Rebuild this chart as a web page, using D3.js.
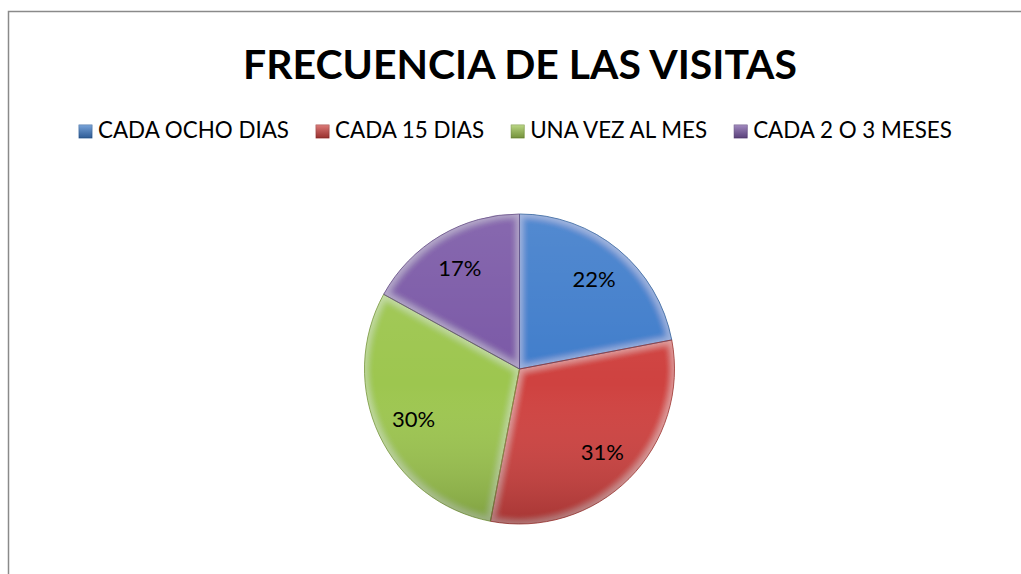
<!DOCTYPE html>
<html>
<head>
<meta charset="utf-8">
<script src="https://cdn.jsdelivr.net/npm/d3@7"></script>
<style>
  body { margin: 0; background: #fff; }
  text { font-family: "Lato", "Open Sans", sans-serif; fill: #000; }
</style>
</head>
<body>
<div class="chart"></div>
<script>
var categories = ["CADA OCHO DIAS", "CADA 15 DIAS", "UNA VEZ AL MES", "CADA 2 O 3 MESES"];
var values = [22, 31, 30, 17];
var colors = ["#3f7dcb", "#cf423f", "#9dc64f", "#7a58a6"];
var title = "FRECUENCIA DE LAS VISITAS";

var svgWidth = 1021;
var svgHeight = 574;

var svg = d3.select(".chart")
  .append("svg")
  .attr("width", svgWidth)
  .attr("height", svgHeight);

var defs = svg.append("defs");

// frame (only left and top edges visible)
svg.append("path")
  .attr("d", "M8.5,574 L8.5,11.5 L1021,11.5")
  .attr("fill", "none")
  .attr("stroke", "#8a8a8a")
  .attr("stroke-width", 1.5);

// title, fitted to its width in the picture
var titleText = svg.append("text")
  .attr("x", 520)
  .attr("y", 79)
  .attr("text-anchor", "middle")
  .style("font-weight", "bold")
  .style("font-size", "44px")
  .text(title);
var tw = titleText.node().getComputedTextLength();
titleText.style("font-size", (44 * 554 / tw) + "px");

// inner bevel: light rim along every edge of a shape
var bevel = defs.append("filter")
  .attr("id", "bevel")
  .attr("x", "-5%").attr("y", "-5%").attr("width", "110%").attr("height", "110%");
bevel.append("feMorphology").attr("in", "SourceAlpha").attr("operator", "erode").attr("radius", 3).attr("result", "er");
bevel.append("feGaussianBlur").attr("in", "er").attr("stdDeviation", 3).attr("result", "bl");
bevel.append("feComposite").attr("in", "SourceAlpha").attr("in2", "bl").attr("operator", "out").attr("result", "rim");
bevel.append("feFlood").attr("flood-color", "#fff").attr("flood-opacity", 0.3).attr("result", "fl");
bevel.append("feComposite").attr("in", "fl").attr("in2", "rim").attr("operator", "in").attr("result", "rimw");
var merge = bevel.append("feMerge");
merge.append("feMergeNode").attr("in", "SourceGraphic");
merge.append("feMergeNode").attr("in", "rimw");

var shade = defs.append("linearGradient")
  .attr("id", "shade")
  .attr("x1", 0).attr("y1", 0).attr("x2", 0).attr("y2", 1);
shade.append("stop").attr("offset", "0%").attr("stop-color", "#fff").attr("stop-opacity", 0.1);
shade.append("stop").attr("offset", "55%").attr("stop-color", "#fff").attr("stop-opacity", 0);
shade.append("stop").attr("offset", "100%").attr("stop-color", "#000").attr("stop-opacity", 0.2);

var legendShade = defs.append("linearGradient")
  .attr("id", "legendShade")
  .attr("x1", 0).attr("y1", 0).attr("x2", 0).attr("y2", 1);
legendShade.append("stop").attr("offset", "0%").attr("stop-color", "#fff").attr("stop-opacity", 0.3);
legendShade.append("stop").attr("offset", "100%").attr("stop-color", "#000").attr("stop-opacity", 0.25);

// legend
var legendFont = 22;
var legend = svg.append("g");
var items = legend.selectAll("g")
  .data(categories)
  .enter()
  .append("g");
items.append("rect")
  .attr("width", 13)
  .attr("height", 13)
  .attr("y", -13)
  .attr("fill", (d, i) => colors[i])
  .attr("stroke", (d, i) => d3.color(colors[i]).darker(0.7))
  .attr("stroke-width", 0.8);
items.append("rect")
  .attr("width", 13)
  .attr("height", 13)
  .attr("y", -13)
  .attr("fill", "url(#legendShade)");
items.append("text")
  .attr("x", 19)
  .attr("y", 0)
  .style("font-size", legendFont + "px")
  .text(d => d);

var textWidths = [];
items.select("text").each(function() { textWidths.push(this.getComputedTextLength()); });
var totalText = d3.sum(textWidths);
// total legend width in the picture: 873px, 27px gaps, 19px marker + gap
var scaleF = (873 - 3 * 27 - 4 * 19) / totalText;
items.select("text").style("font-size", (legendFont * scaleF) + "px");
var xPos = 79;
items.each(function(d, i) {
  d3.select(this).attr("transform", `translate(${xPos}, 138)`);
  xPos += 19 + textWidths[i] * scaleF + 27;
});

// pie
var radius = 155;
var pieGroup = svg.append("g")
  .attr("transform", "translate(519.5, 369)");

var pie = d3.pie().sort(null).value(d => d);
var arc = d3.arc().innerRadius(0).outerRadius(radius);
var arcs = pie(values);

pieGroup.selectAll("path.slice")
  .data(arcs)
  .enter()
  .append("path")
  .attr("class", "slice")
  .attr("d", arc)
  .attr("fill", (d, i) => colors[i])
  .attr("filter", "url(#bevel)");

pieGroup.selectAll("path.edge")
  .data(arcs)
  .enter()
  .append("path")
  .attr("class", "edge")
  .attr("d", arc)
  .attr("fill", "none")
  .attr("stroke", (d, i) => d3.color(colors[i]).darker(0.8))
  .attr("stroke-width", 0.8);

pieGroup.append("circle")
  .attr("r", radius)
  .attr("fill", "url(#shade)")
  .attr("pointer-events", "none");

var labelArc = d3.arc().innerRadius(radius * 0.755).outerRadius(radius * 0.755);
pieGroup.selectAll("text.pct")
  .data(arcs)
  .enter()
  .append("text")
  .attr("class", "pct")
  .attr("transform", d => `translate(${labelArc.centroid(d)})`)
  .attr("dy", "0.36em")
  .attr("text-anchor", "middle")
  .style("font-size", "22px")
  .text(d => d.data + "%");
</script>
</body>
</html>
